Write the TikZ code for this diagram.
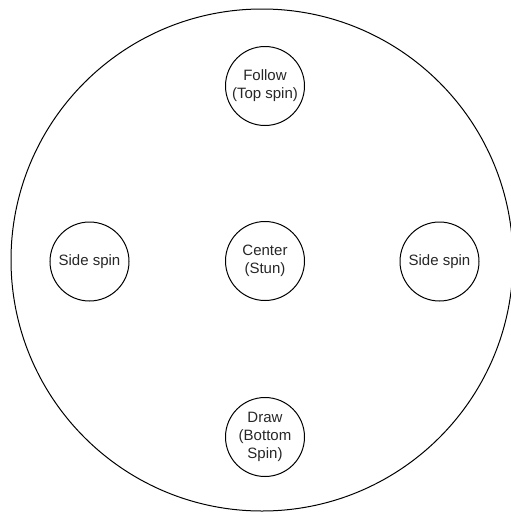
\documentclass[tikz,border=0pt]{standalone}
\usepackage{fontspec}
\setmainfont{Liberation Sans}
\begin{document}
\begin{tikzpicture}[x=1pt,y=-1pt,
  spot/.style={circle,draw=black,line width=1pt,minimum size=79pt,inner sep=0pt,
    align=center,text=black!85,font=\fontsize{15}{18}\selectfont},
  table/.style={circle,draw=black,line width=1pt,minimum size=502pt,inner sep=0pt}]
\useasboundingbox (0,0) rectangle (511,515);
\node[table] (tbl) at (262,260) {};
\node[spot] (follow) at (265,86) {Follow\\(Top spin)};
\node[spot] (center) at (265,261) {Center\\(Stun)};
\node[spot] (left) at (89.5,261.5) {Side spin};
\node[spot] (right) at (439.5,261.5) {Side spin};
\node[spot] (draw) at (265,437) {Draw\\(Bottom\\Spin)};
\end{tikzpicture}
\end{document}
